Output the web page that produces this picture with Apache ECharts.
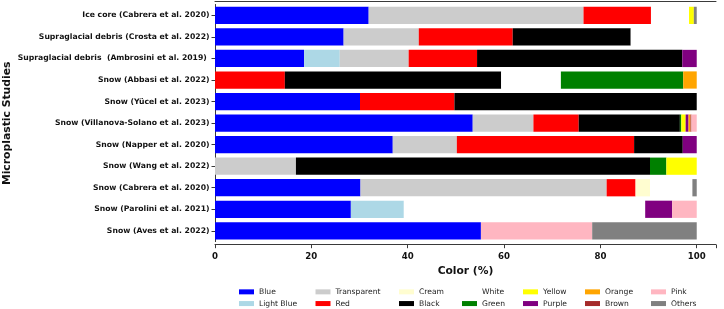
<!DOCTYPE html>
<html>
<head>
<meta charset="utf-8">
<script src="https://cdn.jsdelivr.net/npm/echarts@6/dist/echarts.min.js"></script>
<style>
html,body{margin:0;padding:0;background:#fff;}
#chart{width:724px;height:309px;}
</style>
</head>
<body>
<div id="chart"></div>
<script>
// Categories, top to bottom
const categories = [
  "Ice core (Cabrera et al. 2020)",
  "Supraglacial debris (Crosta et al. 2022)",
  "Supraglacial debris  (Ambrosini et al. 2019) ",
  "Snow (Abbasi et al. 2022)",
  "Snow (Yücel et al. 2023)",
  "Snow (Villanova-Solano et al. 2023)",
  "Snow (Napper et al. 2020)",
  "Snow (Wang et al. 2022)",
  "Snow (Cabrera et al. 2020)",
  "Snow (Parolini et al. 2021)",
  "Snow (Aves et al. 2022)"
];
// Percentages per colour class (same order as categories)
const blue        = [31.9, 26.7, 18.5, 0,    30.1, 53.5, 36.9, 0,    30.2, 28.2, 55.2];
const lightBlue   = [0,    0,    7.4,  0,    0,    0,    0,    0,    0,    11.0, 0];
const transparent = [44.6, 15.6, 14.3, 0,    0,    12.6, 13.3, 16.8, 51.1, 0,    0];
const red         = [14.0, 19.5, 14.2, 14.5, 19.6, 9.4,  36.8, 0,    6.0,  0,    0];
const cream       = [0,    0,    0,    0,    0,    0,    0,    0,    3.0,  0,    0];
const black       = [0,    24.5, 42.6, 44.9, 50.3, 21.0, 10.1, 73.5, 0,    0,    0];
const white       = [7.9,  13.7, 0,    12.4, 0,    0,    0,    0,    8.8,  50.1, 0];
const green       = [0,    0,    0,    25.4, 0,    0.3,  0,    3.4,  0,    0,    0];
const yellow      = [1.0,  0,    0,    0,    0,    0.9,  0,    6.3,  0,    0,    0];
const purple      = [0,    0,    3.0,  0,    0,    0.6,  2.9,  0,    0,    5.6,  0];
const orange      = [0,    0,    0,    2.8,  0,    0.4,  0,    0,    0,    0,    0];
const brown       = [0,    0,    0,    0,    0,    0.2,  0,    0,    0,    0,    0];
const pink        = [0,    0,    0,    0,    0,    1.1,  0,    0,    0,    5.1,  23.1];
const others      = [0.6,  0,    0,    0,    0,    0,    0,    0,    0.9,  0,    21.7];

const seriesNames = ["Blue","Light Blue","Transparent","Red","Cream","Black","White","Green","Yellow","Purple","Orange","Brown","Pink","Others"];
const seriesData = [blue, lightBlue, transparent, red, cream, black, white, green, yellow, purple, orange, brown, pink, others];
const seriesColors = ["#0000ff","#add8e6","#cccccc","#ff0000","#fffdd0","#000000","#ffffff","#008000","#ffff00","#800080","#ffa500","#a52a2a","#ffb6c1","#808080"];
const xTicks = [0, 20, 40, 60, 80, 100];

const chart = echarts.init(document.getElementById('chart'), null, {renderer: 'canvas'});

const frameColor = '#3a3a3a';
const legendCols = [[0,1],[2,3],[4,5],[6,7],[8,9],[10,11],[12,13]];
const legendLeft = [239, 315.5, 399, 462, 523, 585, 651];

const option = {
  animation: false,
  backgroundColor: '#ffffff',
  grid: {left: 215, right: 8, top: 4.6, height: 237, containLabel: false},
  xAxis: [{
    type: 'value', min: 0, max: 104, interval: 20, position: 'bottom', offset: 3.1,
    axisLine: {show: true, lineStyle: {color: frameColor, width: 1}},
    axisTick: {show: true, length: 3.5, lineStyle: {color: frameColor}},
    axisLabel: {fontSize: 8.6, fontWeight: 'bold', color: '#111', fontFamily: 'DejaVu Sans', margin: 7.5,
      formatter: v => xTicks.indexOf(v) >= 0 ? String(v) : ''},
    splitLine: {show: false},
    name: 'Color (%)', nameLocation: 'middle', nameGap: 17,
    nameTextStyle: {fontSize: 10.7, fontWeight: 'bold', color: '#111', fontFamily: 'DejaVu Sans'}
  }, {
    type: 'value', min: 0, max: 104, position: 'top', offset: 3.1,
    axisLine: {show: true, lineStyle: {color: frameColor, width: 1}},
    axisTick: {show: false}, axisLabel: {show: false}, splitLine: {show: false}
  }],
  yAxis: [{
    type: 'category', data: categories, inverse: true, position: 'left',
    axisLine: {show: true, lineStyle: {color: frameColor, width: 1}},
    axisTick: {show: true, alignWithLabel: true, length: 3.5, lineStyle: {color: frameColor}},
    axisLabel: {fontSize: 7.7, fontWeight: 'bold', color: '#111', fontFamily: 'DejaVu Sans', margin: 5.5}
  }, {
    type: 'category', data: categories, inverse: true, position: 'right',
    axisLine: {show: true, lineStyle: {color: frameColor, width: 1}},
    axisTick: {show: false}, axisLabel: {show: false}
  }],
  legend: legendCols.map((idx, i) => ({
    orient: 'vertical', left: legendLeft[i], top: 287,
    itemWidth: 15, itemHeight: 5, itemGap: 2, icon: 'rect', selectedMode: false,
    padding: 0,
    textStyle: {fontSize: 7.6, color: '#222', fontFamily: 'DejaVu Sans', lineHeight: 9.7},
    data: idx.map(k => seriesNames[k])
  })),
  graphic: [{
    type: 'text', x: 7, y: 123.3, rotation: Math.PI / 2,
    style: {text: 'Microplastic Studies', font: 'bold 10.8px "DejaVu Sans"', fill: '#111',
      align: 'center', verticalAlign: 'middle'}
  }],
  series: seriesNames.map((name, i) => ({
    name: name, type: 'bar', stack: 'total', xAxisIndex: 0, yAxisIndex: 0,
    barCategoryGap: '20%',
    itemStyle: {color: seriesColors[i]},
    data: seriesData[i]
  }))
};
chart.setOption(option);
</script>
</body>
</html>
